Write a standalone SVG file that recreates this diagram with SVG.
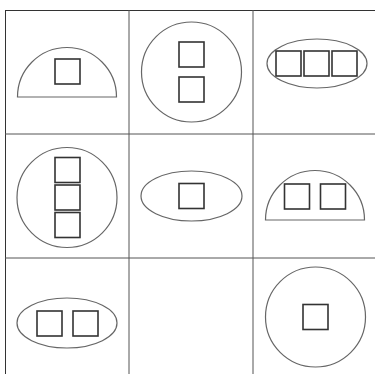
<svg xmlns="http://www.w3.org/2000/svg" width="375" height="374" viewBox="0 0 375 374">
<style>
.grid{stroke:#555;stroke-width:1;fill:none}
.border{stroke:#333;stroke-width:1;fill:none}
.shape{stroke:#666;stroke-width:1.2;fill:none}
.sq{stroke:#333;stroke-width:1.6;fill:none}
</style>
<rect width="375" height="374" fill="#fff"/>
<g id="connectors">
<line class="border" x1="5" y1="10.5" x2="377" y2="10.5"/>
<line class="border" x1="5.5" y1="10" x2="5.5" y2="374"/>
<line class="grid" x1="129" y1="10" x2="129" y2="374"/>
<line class="grid" x1="253" y1="10" x2="253" y2="374"/>
<line class="grid" x1="5" y1="134" x2="377" y2="134"/>
<line class="grid" x1="5" y1="258" x2="377" y2="258"/>
</g>
<g id="node1">
<path class="shape" d="M17.5,97 A49.5,49.5 0 0 1 116.5,97 Z"/>
<rect class="sq" x="55" y="59" width="25" height="25"/>
</g>
<g id="node2">
<circle class="shape" cx="191.5" cy="72" r="50"/>
<rect class="sq" x="179" y="42" width="25" height="25"/>
<rect class="sq" x="179" y="77" width="25" height="25"/>
</g>
<g id="node3">
<ellipse class="shape" cx="317" cy="63.5" rx="50" ry="24.5"/>
<rect class="sq" x="276" y="51" width="25" height="25"/>
<rect class="sq" x="304" y="51" width="25" height="25"/>
<rect class="sq" x="332" y="51" width="25" height="25"/>
</g>
<g id="node4">
<circle class="shape" cx="67" cy="197.5" r="50"/>
<rect class="sq" x="55" y="157.5" width="25" height="25"/>
<rect class="sq" x="55" y="185" width="25" height="25"/>
<rect class="sq" x="55" y="212.5" width="25" height="25"/>
</g>
<g id="node5">
<ellipse class="shape" cx="191.5" cy="196" rx="50.5" ry="25"/>
<rect class="sq" x="179" y="183.5" width="25" height="25"/>
</g>
<g id="node6">
<path class="shape" d="M265.5,220 A49.5,49.5 0 0 1 364.5,220 Z"/>
<rect class="sq" x="284.5" y="184" width="25" height="25"/>
<rect class="sq" x="320.5" y="184" width="25" height="25"/>
</g>
<g id="node7">
<ellipse class="shape" cx="67" cy="323" rx="50" ry="25"/>
<rect class="sq" x="37" y="311" width="25" height="25"/>
<rect class="sq" x="73" y="311" width="25" height="25"/>
</g>
<g id="node9">
<circle class="shape" cx="315.5" cy="317" r="50"/>
<rect class="sq" x="303" y="304.5" width="25" height="25"/>
</g>
</svg>
